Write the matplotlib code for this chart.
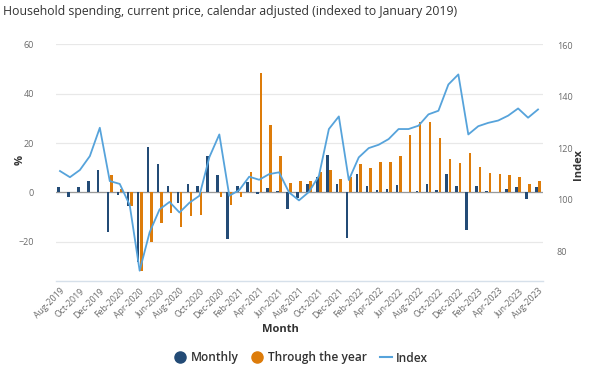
import numpy as np
import pandas as pd
import matplotlib
matplotlib.use("Agg")
import matplotlib.pyplot as plt
from matplotlib.lines import Line2D

plt.rcParams['font.family'] = ['Open Sans', 'DejaVu Sans']

months = pd.date_range("2019-08-01", "2023-08-01", freq="MS").strftime("%b-%Y").tolist()

monthly = [2.0, -1.8, 2.3, 4.6, 9.0, -16.0, -1.0, -5.6, -28.0, 18.4,
           11.7, 2.7, -4.1, 3.3, 2.7, 14.6, 7.0, -19.0, 2.7, 4.1,
           -0.8, 1.8, 0.4, -6.8, -2.4, 3.3, 6.4, 15.3, 3.5, -18.3,
           7.5, 2.7, 0.9, 1.4, 3.0, 0.3, 0.6, 3.3, 1.0, 7.3,
           2.4, -15.3, 2.4, 0.5, 0.3, 1.2, 2.0, -2.7, 2.0]

through_year = [np.nan, np.nan, np.nan, np.nan, np.nan,
                6.9, 1.2, -5.6, -31.8, -20.1, -12.3, -8.5, -14.2, -9.4, -9.2,
                0.3, -1.8, -5.2, -1.8, 8.4, 48.4, 27.4, 14.8, 3.8, 4.6,
                4.6, 8.4, 9.0, 5.3, 6.4, 11.5, 10.0, 12.2, 12.2, 14.8,
                23.1, 28.6, 28.6, 22.1, 13.4, 11.8, 15.9, 10.2, 7.9, 7.6,
                6.9, 6.2, 3.3, 4.6]

index = [111.1, 108.7, 111.5, 116.9, 127.9, 107.2, 106.1, 97.9, 72.4, 87.3,
         96.2, 99.1, 95.0, 98.8, 101.5, 116.5, 125.3, 101.5, 103.7, 108.9,
         107.7, 109.9, 110.6, 102.8, 99.7, 103.0, 109.2, 127.4, 132.3, 107.6,
         116.4, 120.0, 121.3, 123.5, 127.4, 127.4, 128.7, 133.1, 134.5, 144.7,
         148.6, 125.3, 128.5, 129.8, 130.7, 132.6, 135.4, 131.8, 135.0]

c_month = '#234b76'
c_tty = '#dd7c0a'
c_idx = '#56a3db'
grey_txt = '#6a6a6a'
dark_txt = '#333333'

W, H = 590, 369
fig = plt.figure(figsize=(W/100, H/100), dpi=100)
ax = fig.add_axes([56/W, (H-281)/H, (543-56)/W, (281-44.3)/H])
ax2 = ax.twinx()

x = np.arange(len(months))
bw = 0.26
ax.bar(x - 0.165, monthly, width=bw, color=c_month, zorder=3)
ax.bar(x + 0.165, through_year, width=bw, color=c_tty, zorder=3)
ax.axhline(0, color='#999999', lw=0.9, zorder=2)

ax2.plot(x, index, color=c_idx, lw=1.3, zorder=4)

ax.set_xlim(-0.4, 48.5)
ax.set_ylim(-35.9, 60)
ax.set_yticks([-20, 0, 20, 40, 60])
ax2.set_ylim(68.4, 160.3)
ax2.set_yticks([80, 100, 120, 140, 160])

ax.grid(axis='y', color='#e8e8e8', lw=0.9, zorder=0)
ax.set_axisbelow(True)

for a in (ax, ax2):
    for s in ['top', 'left', 'right', 'bottom']:
        a.spines[s].set_visible(False)
ax.spines['bottom'].set_visible(True)
ax.spines['bottom'].set_color('#d6e0ea')
ax.spines['bottom'].set_linewidth(1.0)

ax.set_xticks(x[::2])
ax.set_xticklabels(months[::2], rotation=45, ha='right', rotation_mode='anchor',
                   fontsize=6.3, color=grey_txt)
ax.tick_params(axis='x', length=0, pad=4)
ax.tick_params(axis='y', length=0, labelsize=6.5, labelcolor=grey_txt, pad=16)
ax2.tick_params(axis='y', length=0, labelsize=6.5, labelcolor=grey_txt, pad=10)

fig.text(20/W, 1 - 160/H, '%', rotation=90, ha='center', va='center',
         fontsize=8, fontweight='bold', color=dark_txt)
fig.text(578/W, 1 - 165/H, 'Index', rotation=90, ha='center', va='center',
         fontsize=8, fontweight='bold', color=dark_txt)
fig.text(280/W, 1 - 330/H, 'Month', ha='center', va='center',
         fontsize=8, fontweight='bold', color=dark_txt)

fig.text(3/W, 1 - 11/H, 'Household spending, current price, calendar adjusted (indexed to January 2019)',
         ha='left', va='center', fontsize=8.8, color=dark_txt)

handles = [
    Line2D([], [], marker='o', ls='none', color=c_month, markersize=8),
    Line2D([], [], marker='o', ls='none', color=c_tty, markersize=8),
    Line2D([], [], color=c_idx, lw=1.5),
]
leg = fig.legend(handles, ['Monthly', 'Through the year', 'Index'], loc='center',
           bbox_to_anchor=(301/W, 1 - 358/H), ncol=3, frameon=False,
           prop={'size': 8.6, 'weight': 'semibold'}, handlelength=1.0,
           handletextpad=0.35, columnspacing=1.1, labelcolor=dark_txt)

fig.savefig('out.png', dpi=100)
